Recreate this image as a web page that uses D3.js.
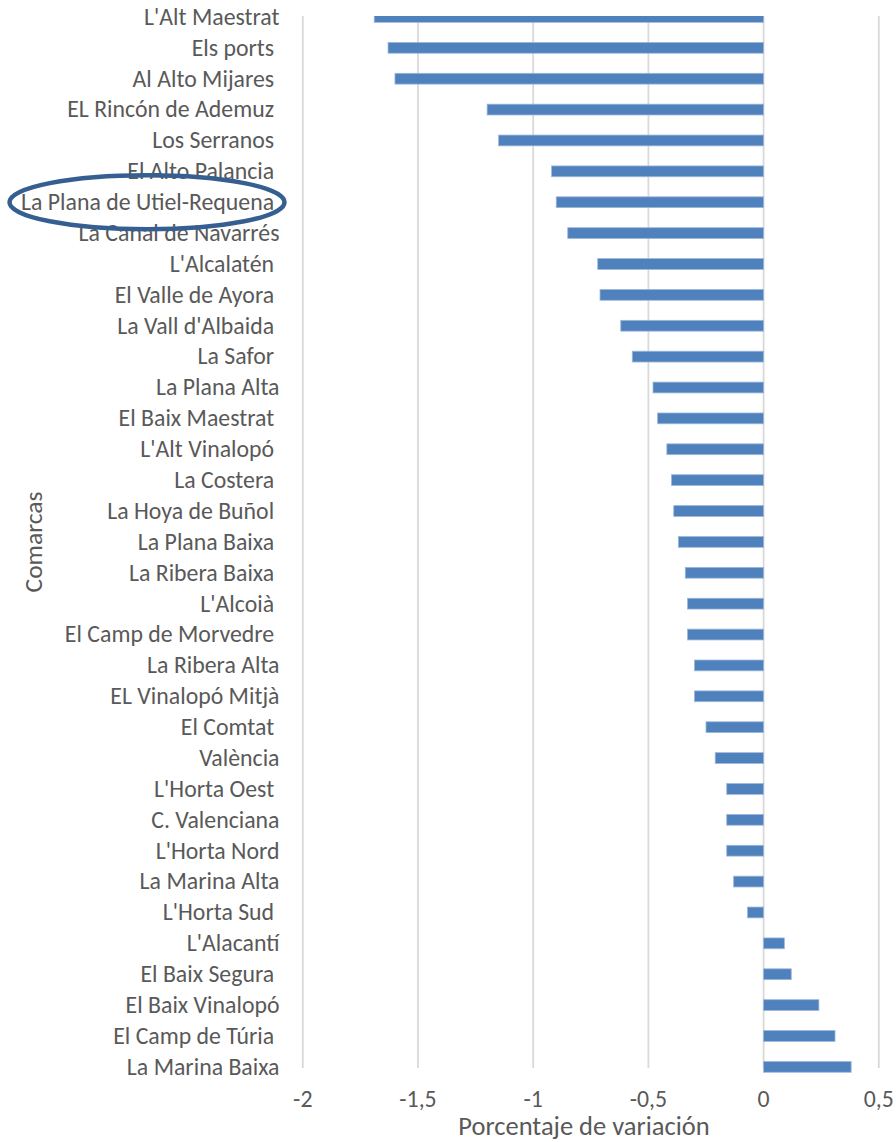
<!DOCTYPE html>
<html>
<head>
<meta charset="utf-8">
<script src="https://cdn.jsdelivr.net/npm/d3@7"></script>
<style>
  html, body { margin: 0; padding: 0; background: #ffffff; }
  svg text { font-family: Carlito, Calibri, "Open Sans", sans-serif; fill: #595959; white-space: pre; }
</style>
</head>
<body>
<svg id="chart" width="896" height="1142"></svg>
<script>
// Comarcas (trailing spaces kept as in the source labels)
const categories = [
  "L'Alt Maestrat", "Els ports ", "Al Alto Mijares ", "EL Rincón de Ademuz ", "Los Serranos ",
  "El Alto Palancia ", "La Plana de Utiel-Requena ", "La Canal de Navarrés", "L'Alcalatén ",
  "El Valle de Ayora ", "La Vall d'Albaida ", "La Safor ", "La Plana Alta", "El Baix Maestrat ",
  "L'Alt Vinalopó ", "La Costera ", "La Hoya de Buñol ", "La Plana Baixa ", "La Ribera Baixa ",
  "L'Alcoià ", "El Camp de Morvedre ", "La Ribera Alta", "EL Vinalopó Mitjà", "El Comtat ",
  "València", "L'Horta Oest ", "C. Valenciana", "L'Horta Nord", "La Marina Alta",
  "L'Horta Sud ", "L'Alacantí", "El Baix Segura ", "El Baix Vinalopó", "El Camp de Túria ",
  "La Marina Baixa"
];

// Porcentaje de variación por comarca
const values = [
  -1.69, -1.63, -1.60, -1.20, -1.15,
  -0.92, -0.90, -0.85, -0.72,
  -0.71, -0.62, -0.57, -0.48, -0.46,
  -0.42, -0.40, -0.39, -0.37, -0.34,
  -0.33, -0.33, -0.30, -0.30, -0.25,
  -0.21, -0.16, -0.16, -0.16, -0.13,
  -0.07, 0.09, 0.12, 0.24, 0.31,
  0.38
];

const xTicks = [-2, -1.5, -1, -0.5, 0, 0.5];
const highlighted = "La Plana de Utiel-Requena ";
const xTitle = "Porcentaje de variación";
const yTitle = "Comarcas";

const svg = d3.select("#chart");
const plotTop = 16, plotBottom = 1068;

const x = d3.scaleLinear().domain([-2, 0.5]).range([302.8, 878.8]);
const y = d3.scaleBand().domain(categories).range([1.5, 1082.3])
  .paddingInner(0.65).paddingOuter(0.325);

const esLocale = d3.formatLocale({ decimal: ",", thousands: ".", grouping: [3], currency: ["", " €"], minus: "-" });
const fmt = esLocale.format("");

svg.append("defs").append("clipPath").attr("id", "plotClip")
  .append("rect").attr("x", 0).attr("y", plotTop).attr("width", 896).attr("height", 1142 - plotTop);

// Vertical gridlines
svg.append("g").selectAll("line").data(xTicks).join("line")
  .attr("x1", d => x(d)).attr("x2", d => x(d))
  .attr("y1", plotTop).attr("y2", plotBottom)
  .attr("stroke", "#d9d9d9").attr("stroke-width", 1.8);

// Bars
svg.append("g").attr("clip-path", "url(#plotClip)")
  .selectAll("rect").data(categories).join("rect")
  .attr("x", (d, i) => x(Math.min(0, values[i])))
  .attr("width", (d, i) => Math.abs(x(values[i]) - x(0)))
  .attr("y", d => y(d))
  .attr("height", y.bandwidth())
  .attr("fill", "#4f81bd")
  .attr("stroke", "#9db7dc").attr("stroke-width", 0.8);

// Category labels
svg.append("g").selectAll("text").data(categories).join("text")
  .attr("x", 279.5)
  .attr("y", d => y(d) + y.bandwidth() / 2)
  .attr("dy", "0.33em")
  .attr("text-anchor", "end")
  .attr("xml:space", "preserve")
  .style("font-size", "23.8px")
  .text(d => d);

// X tick labels
svg.append("g").selectAll("text").data(xTicks).join("text")
  .attr("x", d => x(d))
  .attr("y", 1107)
  .attr("text-anchor", "middle")
  .style("font-size", "23.8px")
  .text(d => fmt(d));

// Axis titles
svg.append("text")
  .attr("x", 584).attr("y", 1134.5)
  .attr("text-anchor", "middle")
  .style("font-size", "26.5px")
  .text(xTitle);

svg.append("text")
  .attr("transform", "translate(41.5,542) rotate(-90)")
  .attr("text-anchor", "middle")
  .style("font-size", "25.5px")
  .text(yTitle);

// Highlight ring around one comarca label
svg.append("ellipse")
  .attr("cx", 147)
  .attr("cy", y(highlighted) + y.bandwidth() / 2)
  .attr("rx", 137.5).attr("ry", 27)
  .attr("fill", "none")
  .attr("stroke", "#365f91").attr("stroke-width", 4.5);
</script>
</body>
</html>
